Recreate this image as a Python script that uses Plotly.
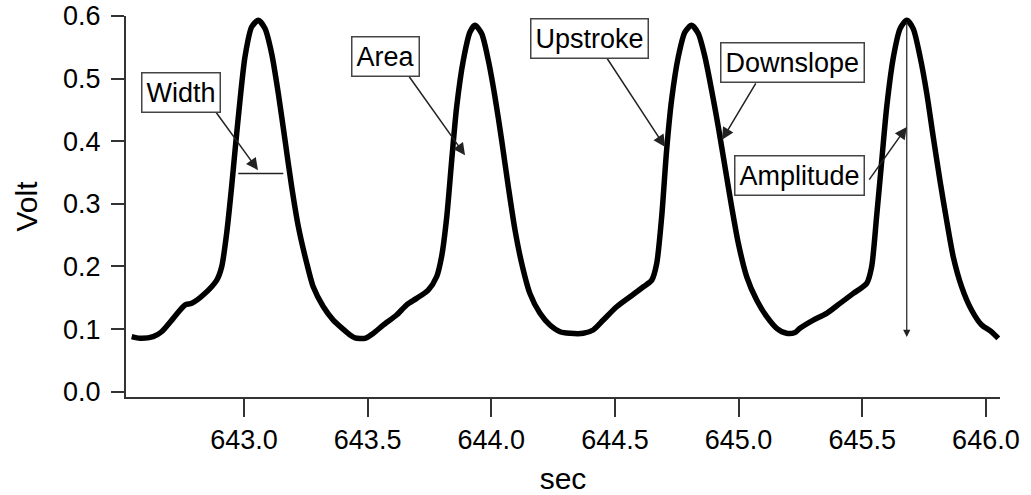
import plotly.graph_objects as go

# ---- data ----
sec = [642.546, 642.580, 642.633, 642.667, 642.714, 642.761, 642.789, 642.835, 642.890, 642.910,
       642.930, 642.950, 642.964, 642.984, 643.004, 643.031, 643.058, 643.085, 643.112, 643.139,
       643.166, 643.193, 643.220, 643.254, 643.280, 643.321, 643.361, 643.402, 643.429,
       643.449, 643.489, 643.523, 643.563, 643.617, 643.657, 643.698, 643.745, 643.779, 643.799,
       643.820, 643.840, 643.860, 643.887, 643.914, 643.934, 643.961, 643.988, 644.015, 644.042,
       644.069, 644.096, 644.123, 644.156, 644.197, 644.237, 644.278,
       644.318, 644.372, 644.412, 644.453, 644.507, 644.561, 644.615, 644.649, 644.669, 644.689,
       644.709, 644.729, 644.756, 644.783, 644.810, 644.837, 644.864, 644.891, 644.918, 644.945,
       644.972, 644.999, 645.033, 645.073, 645.114, 645.154, 645.194,
       645.228, 645.248, 645.302, 645.356, 645.410, 645.464, 645.518, 645.538, 645.558, 645.579,
       645.599, 645.626, 645.653, 645.680, 645.706, 645.734, 645.761, 645.787, 645.814, 645.841,
       645.868, 645.902, 645.942, 645.983, 646.023, 646.050]
volt = [0.0878, 0.0852, 0.0878, 0.0957, 0.1171, 0.1383, 0.1411, 0.1543, 0.1782, 0.1995,
        0.2528, 0.3271, 0.3857, 0.4655, 0.5345, 0.5824, 0.5931, 0.5799, 0.5400, 0.4761,
        0.4016, 0.3271, 0.2633, 0.2049, 0.1675, 0.1356, 0.1144, 0.0995, 0.0905,
        0.0860, 0.0852, 0.0932, 0.1064, 0.1224, 0.1383, 0.1490, 0.1623, 0.1835, 0.2154,
        0.2792, 0.3697, 0.4548, 0.5293, 0.5744, 0.5851, 0.5719, 0.5293, 0.4707, 0.4016,
        0.3271, 0.2580, 0.2049, 0.1570, 0.1251, 0.1064, 0.0957,
        0.0932, 0.0932, 0.0985, 0.1144, 0.1356, 0.1516, 0.1675, 0.1782, 0.2049, 0.2792,
        0.3857, 0.4655, 0.5345, 0.5744, 0.5851, 0.5719, 0.5345, 0.4814, 0.4229, 0.3590,
        0.2952, 0.2368, 0.1835, 0.1463, 0.1197, 0.1012, 0.0932,
        0.0945, 0.1012, 0.1144, 0.1251, 0.1411, 0.1570, 0.1730, 0.1995, 0.2792, 0.3697,
        0.4548, 0.5345, 0.5799, 0.5931, 0.5799, 0.5345, 0.4761, 0.4069, 0.3378, 0.2740,
        0.2154, 0.1675, 0.1304, 0.1064, 0.0957, 0.0852]

x_ticks = [643.0, 643.5, 644.0, 644.5, 645.0, 645.5, 646.0]
y_ticks = [0.0, 0.1, 0.2, 0.3, 0.4, 0.5, 0.6]

# labels: text, box centre (sec, volt)
label_text = ["Width", "Area", "Upstroke", "Downslope", "Amplitude"]
label_x = [642.745, 643.573, 644.396, 645.218, 645.248]
label_y = [0.4777, 0.536, 0.5639, 0.5258, 0.3458]
# pointer arrows: tail -> tip
arrow_tail_x = [642.876, 643.664, 644.460, 645.073, 645.524]
arrow_tail_y = [0.4522, 0.5053, 0.5373, 0.4947, 0.3362]
arrow_tip_x = [643.0566, 643.894, 644.703, 644.933, 645.680]
arrow_tip_y = [0.3538, 0.3777, 0.3909, 0.4024, 0.4229]
# width marker and amplitude marker
width_x = [642.977, 643.159]
width_y = 0.3485
amp_x = 645.680
amp_y = [0.593, 0.0873]

FONT = "Liberation Sans, Arial, Helvetica, sans-serif"

fig = go.Figure()
fig.add_trace(go.Scatter(x=sec, y=volt, mode="lines",
                         line=dict(color="black", width=5.5, shape="spline", smoothing=0.7),
                         showlegend=False, hoverinfo="skip"))

fig.add_shape(type="line", xref="x", yref="y", x0=width_x[0], x1=width_x[1],
              y0=width_y, y1=width_y, line=dict(color="#222", width=1.5))

annotations = []
for tx, ty, hx, hy in zip(arrow_tail_x, arrow_tail_y, arrow_tip_x, arrow_tip_y):
    annotations.append(dict(x=hx, y=hy, ax=tx, ay=ty, xref="x", yref="y",
                            axref="x", ayref="y", text="", showarrow=True,
                            arrowhead=2, arrowsize=1.6, arrowwidth=1.5,
                            arrowcolor="#222"))
annotations.append(dict(x=amp_x, y=amp_y[1], ax=amp_x, ay=amp_y[0], xref="x", yref="y",
                        axref="x", ayref="y", text="", showarrow=True,
                        arrowhead=2, arrowsize=1.2, arrowwidth=1.2, arrowcolor="#222"))
for t, lx, ly in zip(label_text, label_x, label_y):
    annotations.append(dict(x=lx, y=ly, xref="x", yref="y", text=t, showarrow=False,
                            font=dict(family=FONT, size=27, color="black"),
                            bgcolor="white", bordercolor="#444", borderwidth=1.5,
                            borderpad=4))

fig.update_layout(
    width=1031, height=495,
    margin=dict(l=126, r=31, t=16, b=98),
    paper_bgcolor="white", plot_bgcolor="white",
    font=dict(family=FONT, color="black"),
    annotations=annotations,
    xaxis=dict(range=[642.523, 646.057], tickvals=x_ticks, tickformat=".1f",
               automargin=False,
               showgrid=False, zeroline=False, showline=True, linecolor="#333",
               linewidth=2, ticks="outside", ticklen=18, tickwidth=2, tickcolor="#333",
               tickfont=dict(size=27, family=FONT, color="black"),
               title=dict(text="sec", font=dict(size=30, family=FONT, color="black"),
                          standoff=16)),
    yaxis=dict(range=[-0.0085, 0.6], tickvals=y_ticks, tickformat=".1f",
               automargin=False, ticklabelstandoff=5,
               showgrid=False, zeroline=False, showline=True, linecolor="#333",
               linewidth=2, ticks="outside", ticklen=13, tickwidth=2, tickcolor="#333",
               tickfont=dict(size=27, family=FONT, color="black"),
               title=dict(text="Volt", font=dict(size=30, family=FONT, color="black"),
                          standoff=17)),
)

fig.write_html("out.html")
